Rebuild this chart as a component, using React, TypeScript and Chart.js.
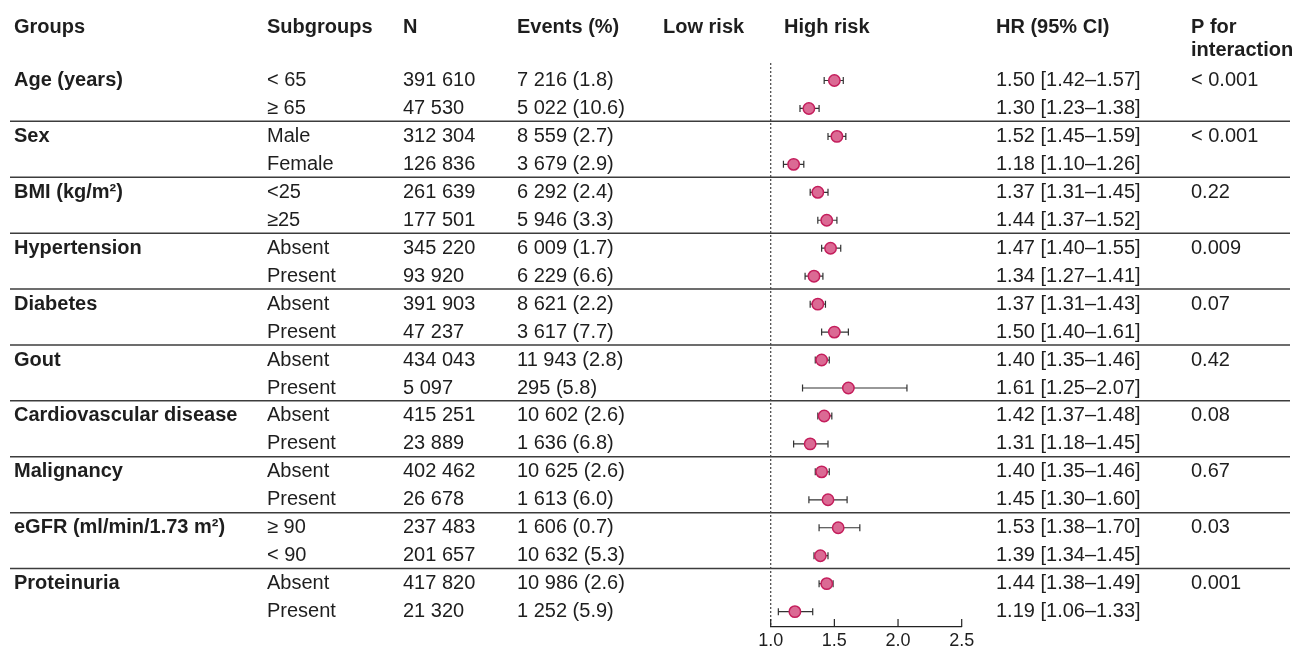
import { useEffect, useRef } from "react";
import { Chart, registerables } from "chart.js";

Chart.register(...registerables);

const groups = [
  "Age (years)",
  "Sex",
  "BMI (kg/m²)",
  "Hypertension",
  "Diabetes",
  "Gout",
  "Cardiovascular disease",
  "Malignancy",
  "eGFR (ml/min/1.73 m²)",
  "Proteinuria",
];
const subgroups = [
  "< 65", "≥ 65",
  "Male", "Female",
  "<25", "≥25",
  "Absent", "Present",
  "Absent", "Present",
  "Absent", "Present",
  "Absent", "Present",
  "Absent", "Present",
  "≥ 90", "< 90",
  "Absent", "Present",
];
const nValues = [
  "391 610", "47 530",
  "312 304", "126 836",
  "261 639", "177 501",
  "345 220", "93 920",
  "391 903", "47 237",
  "434 043", "5 097",
  "415 251", "23 889",
  "402 462", "26 678",
  "237 483", "201 657",
  "417 820", "21 320",
];
const events = [
  "7 216 (1.8)", "5 022 (10.6)",
  "8 559 (2.7)", "3 679 (2.9)",
  "6 292 (2.4)", "5 946 (3.3)",
  "6 009 (1.7)", "6 229 (6.6)",
  "8 621 (2.2)", "3 617 (7.7)",
  "11 943 (2.8)", "295 (5.8)",
  "10 602 (2.6)", "1 636 (6.8)",
  "10 625 (2.6)", "1 613 (6.0)",
  "1 606 (0.7)", "10 632 (5.3)",
  "10 986 (2.6)", "1 252 (5.9)",
];
const hr = [1.5, 1.3, 1.52, 1.18, 1.37, 1.44, 1.47, 1.34, 1.37, 1.5, 1.4, 1.61, 1.42, 1.31, 1.4, 1.45, 1.53, 1.39, 1.44, 1.19];
const ciLow = [1.42, 1.23, 1.45, 1.1, 1.31, 1.37, 1.4, 1.27, 1.31, 1.4, 1.35, 1.25, 1.37, 1.18, 1.35, 1.3, 1.38, 1.34, 1.38, 1.06];
const ciHigh = [1.57, 1.38, 1.59, 1.26, 1.45, 1.52, 1.55, 1.41, 1.43, 1.61, 1.46, 2.07, 1.48, 1.45, 1.46, 1.6, 1.7, 1.45, 1.49, 1.33];
const pInteraction = ["< 0.001", "< 0.001", "0.22", "0.009", "0.07", "0.42", "0.08", "0.67", "0.03", "0.001"];
const xTicks = [1.0, 1.5, 2.0, 2.5];

const W = 1295;
const H = 651;
const FONT = '"Liberation Sans", Arial, Helvetica, sans-serif';
const TEXT = "#1e1e1e";

const fmtHR = (i: number) =>
  `${hr[i].toFixed(2)} [${ciLow[i].toFixed(2)}–${ciHigh[i].toFixed(2)}]`;

const forestPlugin = {
  id: "forest",
  beforeDatasetsDraw(chart: any) {
    const { ctx, scales } = chart;
    const xs = scales.x;
    const ys = scales.y;
    const area = chart.chartArea;
    ctx.save();
    // separators
    ctx.strokeStyle = "#3c3c3c";
    ctx.lineWidth = 1.5;
    for (let k = 0; k < groups.length - 1; k++) {
      const y = ys.getPixelForValue(2 * k + 1.46);
      ctx.beginPath();
      ctx.moveTo(10, y);
      ctx.lineTo(1290, y);
      ctx.stroke();
    }
    // reference dotted line
    const x1 = xs.getPixelForValue(1);
    ctx.strokeStyle = "#444";
    ctx.lineWidth = 1.2;
    ctx.setLineDash([2, 2]);
    ctx.beginPath();
    ctx.moveTo(x1, area.top);
    ctx.lineTo(x1, area.bottom);
    ctx.stroke();
    ctx.setLineDash([]);
    // inward ticks
    ctx.strokeStyle = "#222";
    ctx.lineWidth = 1.2;
    xTicks.forEach((t) => {
      const x = xs.getPixelForValue(t);
      ctx.beginPath();
      ctx.moveTo(x, area.bottom);
      ctx.lineTo(x, area.bottom - 8);
      ctx.stroke();
    });
    // error bars
    ctx.strokeStyle = "#333";
    ctx.lineWidth = 1.2;
    hr.forEach((_, i) => {
      const y = ys.getPixelForValue(i);
      const a = xs.getPixelForValue(ciLow[i]);
      const b = xs.getPixelForValue(ciHigh[i]);
      ctx.beginPath();
      ctx.moveTo(a, y);
      ctx.lineTo(b, y);
      ctx.moveTo(a, y - 3.5);
      ctx.lineTo(a, y + 3.5);
      ctx.moveTo(b, y - 3.5);
      ctx.lineTo(b, y + 3.5);
      ctx.stroke();
    });
    ctx.restore();
  },
  afterDraw(chart: any) {
    const { ctx, scales } = chart;
    const ys = scales.y;
    ctx.save();
    ctx.fillStyle = TEXT;
    ctx.textBaseline = "middle";
    ctx.textAlign = "left";
    // headers
    ctx.font = `bold 20px ${FONT}`;
    const hy = 27;
    ctx.fillText("Groups", 14, hy);
    ctx.fillText("Subgroups", 267, hy);
    ctx.fillText("N", 403, hy);
    ctx.fillText("Events (%)", 517, hy);
    ctx.fillText("Low risk", 663, hy);
    ctx.fillText("High risk", 784, hy);
    ctx.fillText("HR (95% CI)", 996, hy);
    ctx.fillText("P for", 1191, hy);
    ctx.fillText("interaction", 1191, hy + 23);
    // group labels
    groups.forEach((g, k) => {
      ctx.fillText(g, 14, ys.getPixelForValue(2 * k));
    });
    // rows
    ctx.font = `20px ${FONT}`;
    subgroups.forEach((s, i) => {
      const y = ys.getPixelForValue(i);
      ctx.fillText(s, 267, y);
      ctx.fillText(nValues[i], 403, y);
      ctx.fillText(events[i], 517, y);
      ctx.fillText(fmtHR(i), 996, y);
    });
    pInteraction.forEach((p, k) => {
      ctx.fillText(p, 1191, ys.getPixelForValue(2 * k));
    });
    ctx.restore();
  },
};

export default function App() {
  const ref = useRef<HTMLCanvasElement>(null);
  useEffect(() => {
    if (!ref.current) return;
    const chart = new Chart(ref.current, {
      type: "scatter",
      data: {
        datasets: [
          {
            data: hr.map((v, i) => ({ x: v, y: i })),
            pointRadius: 5.7,
            pointHoverRadius: 5.7,
            backgroundColor: "#DB6A94",
            borderColor: "#C41E5C",
            borderWidth: 1.5,
          },
        ],
      },
      options: {
        animation: false,
        responsive: false,
        events: [],
        layout: { padding: { left: 770.7, right: W - 961.7, top: 63, bottom: 0 } },
        plugins: { legend: { display: false }, tooltip: { enabled: false }, title: { display: false } },
        scales: {
          x: {
            type: "linear",
            min: 1,
            max: 2.5,
            afterBuildTicks: (scale: any) => {
              scale.ticks = xTicks.map((v) => ({ value: v }));
            },
            afterFit: (scale: any) => {
              scale.height = 24;
            },
            ticks: {
              color: TEXT,
              font: { family: FONT, size: 18 },
              padding: 3,
              callback: (v: any) => Number(v).toFixed(1),
              maxRotation: 0,
              autoSkip: false,
            },
            grid: { display: true, drawOnChartArea: false, drawTicks: false },
            border: { display: true, color: "#222", width: 1.2 },
          },
          y: {
            type: "linear",
            display: false,
            reverse: true,
            min: -0.626,
            max: 19.55,
          },
        },
      },
      plugins: [forestPlugin],
    });
    return () => chart.destroy();
  }, []);
  return (
    <div style={{ position: "absolute", left: 0, top: 0, width: W, height: H, background: "#fff" }}>
      <canvas ref={ref} width={W} height={H} style={{ display: "block" }} />
    </div>
  );
}
